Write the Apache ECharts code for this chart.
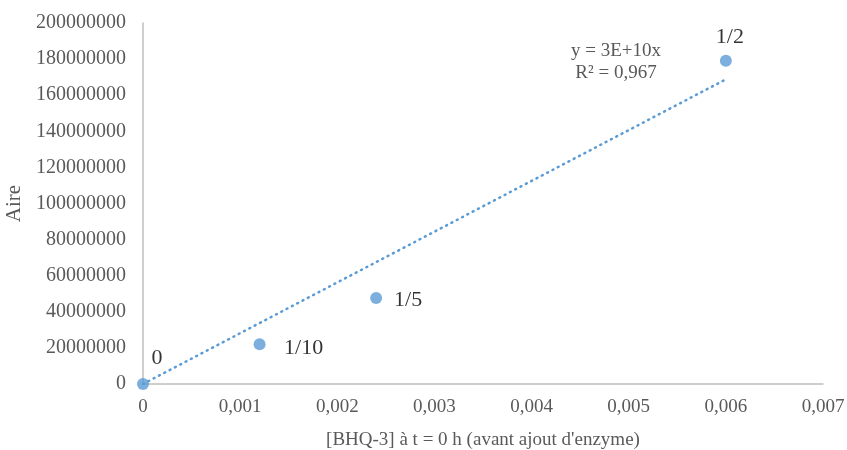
<!DOCTYPE html>
<html><head><meta charset="utf-8">
<script src="https://cdn.jsdelivr.net/npm/echarts@6/dist/echarts.min.js"></script>
<style>html,body{margin:0;padding:0;background:#fff}#c{width:847px;height:450px}</style>
</head><body><div id="c"></div>
<script>
const xValues = [0, 0.0012, 0.0024, 0.006];
const yValues = [0, 22000000, 47600000, 179100000];
const pointLabels = ['0', '1/10', '1/5', '1/2'];
const equationText = ['y = 3E+10x', 'R² = 0,967'];
const xTitle = "[BHQ-3] à t = 0 h (avant ajout d'enzyme)";
const yTitle = 'Aire';

// linear trendline through origin (least squares)
let sxy = 0, sxx = 0;
xValues.forEach((x, i) => { sxy += x * yValues[i]; sxx += x * x; });
const slope = sxy / sxx;
const xMaxData = Math.max(...xValues);
const trend = [[0, 0], [xMaxData, slope * xMaxData]];

const font = '"Liberation Serif", "Times New Roman", serif';
const grey = '#595959';
const labelOffsets = [[20, -20], [50, 10], [38, 8], [10, -18]];
const points = xValues.map((x, i) => ({
  value: [x, yValues[i]],
  label: {
    show: true, formatter: pointLabels[i], color: '#000', fontFamily: font, fontSize: 22,
    position: labelOffsets[i], align: 'center', verticalAlign: 'middle'
  }
}));

const chart = echarts.init(document.getElementById('c'));
chart.setOption({
  animation: false,
  grid: { left: 143, right: 24, top: 23, bottom: 66, containLabel: false, outerBoundsMode: 'none' },
  xAxis: {
    type: 'value', min: 0, max: 0.007, interval: 0.001,
    name: xTitle, nameLocation: 'middle', nameGap: 47,
    nameTextStyle: { color: grey, fontFamily: font, fontSize: 19 },
    axisLine: { show: true, onZero: false, lineStyle: { color: '#BFBFBF', width: 1.5 } },
    axisTick: { show: false }, splitLine: { show: false },
    axisLabel: { color: grey, fontFamily: font, fontSize: 19, margin: 14,
      formatter: v => String(+v.toFixed(3)).replace('.', ',') }
  },
  yAxis: {
    type: 'value', min: 0, max: 200000000, interval: 20000000,
    name: yTitle, nameLocation: 'middle', nameGap: 117, nameRotate: 90,
    nameTextStyle: { color: grey, fontFamily: font, fontSize: 21 },
    axisLine: { show: true, lineStyle: { color: '#BFBFBF', width: 1.5 } },
    axisTick: { show: false }, splitLine: { show: false },
    axisLabel: { color: grey, fontFamily: font, fontSize: 20, margin: 17,
      formatter: v => String(v) }
  },
  series: [
    {
      type: 'line', data: trend, symbol: 'none', silent: true,
      lineStyle: { color: '#5B9BD5', width: 2.5, type: [1, 5], cap: 'round' },
      z: 1
    },
    {
      type: 'scatter', data: points, symbolSize: 12,
      itemStyle: { color: '#5B9BD5' }, z: 3
    }
  ],
  graphic: [
    { type: 'text', x: 616, y: 51, style: { text: equationText[0], fill: grey, font: '19px ' + font, align: 'center', verticalAlign: 'middle' } },
    { type: 'text', x: 616, y: 73, style: { text: equationText[1], fill: grey, font: '19px ' + font, align: 'center', verticalAlign: 'middle' } }
  ]
});
</script></body></html>
